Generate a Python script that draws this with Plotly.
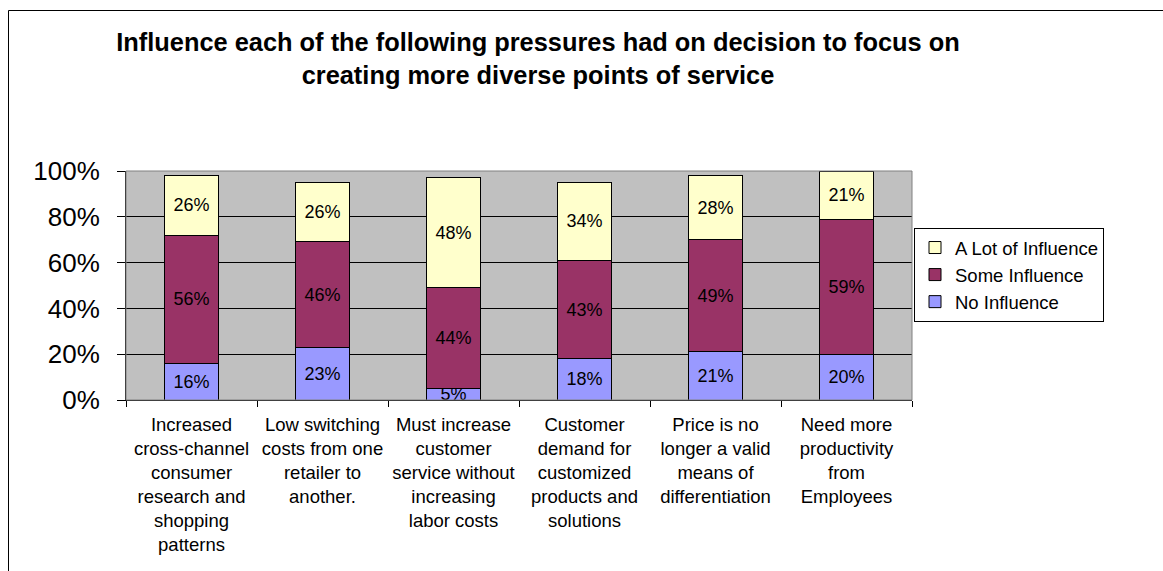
import plotly.graph_objects as go

categories = [
    "Increased<br>cross-channel<br>consumer<br>research and<br>shopping<br>patterns",
    "Low switching<br>costs from one<br>retailer to<br>another.",
    "Must increase<br>customer<br>service without<br>increasing<br>labor costs",
    "Customer<br>demand for<br>customized<br>products and<br>solutions",
    "Price is no<br>longer a valid<br>means of<br>differentiation",
    "Need more<br>productivity<br>from<br>Employees",
]
no_influence = [16, 23, 5, 18, 21, 20]
some_influence = [56, 46, 44, 43, 49, 59]
a_lot_influence = [26, 26, 48, 34, 28, 21]

series = [
    ("No Influence", no_influence, "#9999FF"),
    ("Some Influence", some_influence, "#993366"),
    ("A Lot of Influence", a_lot_influence, "#FFFFCC"),
]

FONT = "Liberation Sans, Arial, sans-serif"

fig = go.Figure()
for name, vals, color in series:
    fig.add_trace(go.Bar(
        name=name,
        x=categories,
        y=[v / 100 for v in vals],
        text=[f"{v}%" for v in vals],
        textposition="inside",
        insidetextanchor="middle",
        textangle=0,
        textfont=dict(family=FONT, size=18, color="black"),
        marker=dict(color=color, line=dict(color="black", width=1)),
        hoverinfo="skip",
    ))

W, H = 1163, 571
L, R, T, B = 126, 251, 171, 171
pw = W - L - R
ph = H - T - B

def px_x(p):
    return (p - L) / pw

def px_y(p):
    return (H - B - p) / ph

fig.update_layout(
    width=W, height=H,
    barmode="stack",
    bargap=0.59,
    margin=dict(l=L, r=R, t=T, b=B, autoexpand=False),
    paper_bgcolor="white",
    plot_bgcolor="#C0C0C0",
    font=dict(family=FONT, color="black"),
    uniformtext=dict(minsize=18, mode="show"),
    title=dict(
        text="<b>Influence each of the following pressures had on decision to focus on<br>creating more diverse points of service</b>",
        x=538 / W, xanchor="center", xref="container",
        y=1 - 51 / H, yanchor="top", yref="container",
        font=dict(family=FONT, size=25.4, color="black"),
    ),
    legend=dict(
        x=px_x(914), xanchor="left",
        y=px_y(228), yanchor="top",
        bordercolor="black", borderwidth=1,
        bgcolor="white",
        itemwidth=30,
        font=dict(family=FONT, size=18.5, color="black"),
    ),
    xaxis=dict(
        showline=True, linecolor="black", linewidth=1,
        ticks="outside", tickson="boundaries", ticklen=6, tickcolor="black",
        tickfont=dict(family=FONT, size=18.5, color="black"),
        tickangle=0,
        ticklabelstandoff=8,
        showgrid=False,
    ),
    yaxis=dict(
        range=[0, 1],
        tickvals=[0, 0.2, 0.4, 0.6, 0.8, 1.0],
        tickformat=".0%",
        showline=True, linecolor="black", linewidth=1,
        ticks="outside", ticklen=8, tickcolor="black",
        tickfont=dict(family=FONT, size=26, color="black"),
        ticklabelstandoff=12,
        showgrid=True, gridcolor="black", gridwidth=1,
        zeroline=False,
    ),
    shapes=[
        dict(type="rect", xref="paper", yref="paper", x0=0, x1=1, y0=0, y1=1,
             line=dict(color="#808080", width=1), fillcolor="rgba(0,0,0,0)", layer="above"),
        dict(type="rect", xref="paper", yref="paper",
             x0=px_x(8.5), x1=px_x(W + 20), y0=px_y(H + 20), y1=px_y(10.5),
             line=dict(color="black", width=1), fillcolor="rgba(0,0,0,0)"),
    ],
)

fig.write_html("out.html")
